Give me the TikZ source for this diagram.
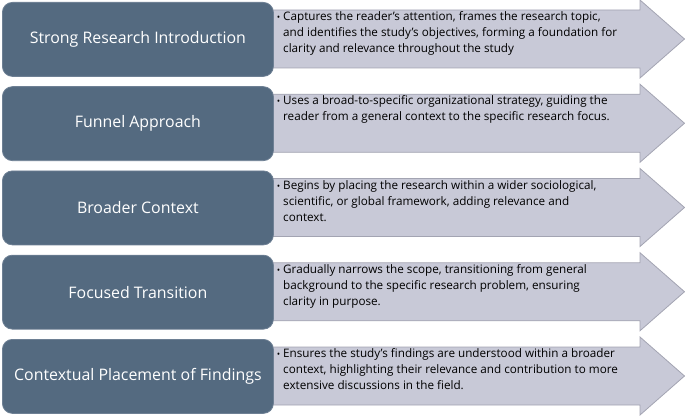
\documentclass[tikz,border=0pt]{standalone}
\usepackage{fontspec}
\setmainfont{Open Sans}
\definecolor{boxfill}{HTML}{546A80}
\definecolor{boxedge}{HTML}{6E8094}
\definecolor{arrfill}{HTML}{C8C9D7}
\definecolor{arredge}{HTML}{A3A4B2}
\begin{document}
\begin{tikzpicture}[x=1pt,y=-1pt,
  titlebox/.style={draw=boxedge, line width=0.8pt, fill=boxfill, rounded corners=10pt, minimum width=271pt, minimum height=74pt, text=white, font=\fontsize{15.9}{18}\selectfont, anchor=north west, inner sep=0pt},
  arrowshape/.style={draw=arredge, line width=0.8pt, fill=arrfill},
  desc/.style={anchor=north west, align=left, inner sep=0pt, font=\fontsize{11.7}{16}\selectfont, text=black}]
\useasboundingbox (0,0) rectangle (685,417);
\foreach \i/\title/\txt in {
 0/{Strong Research Introduction}/{Captures the reader's attention, frames the research topic,\\and identifies the study’s objectives, forming a foundation for\\clarity and relevance throughout the study},
 1/{Funnel Approach}/{Uses a broad-to-specific organizational strategy, guiding the\\reader from a general context to the specific research focus.},
 2/{Broader Context}/{Begins by placing the research within a wider sociological,\\scientific, or global framework, adding relevance and\\context.},
 3/{Focused Transition}/{Gradually narrows the scope, transitioning from general\\background to the specific research problem, ensuring\\clarity in purpose.},
 4/{Contextual Placement of Findings}/{Ensures the study’s findings are understood within a broader\\context, highlighting their relevance and contribution to more\\extensive discussions in the field.}} {
  \pgfmathsetmacro{\r}{2+84.25*\i}
  \draw[arrowshape] (262,\r+8) -- (640,\r+8) -- (640,\r-2) -- (684.5,\r+37) -- (640,\r+76) -- (640,\r+66) -- (262,\r+66) -- cycle;
  \node[titlebox] (t\i) at (2,\r) {\title};
  \node[desc] (d\i) at (283,\r+9.5) {\llap{\fontsize{9}{16}\selectfont•\hspace{3pt}}\txt};
}
\end{tikzpicture}
\end{document}
